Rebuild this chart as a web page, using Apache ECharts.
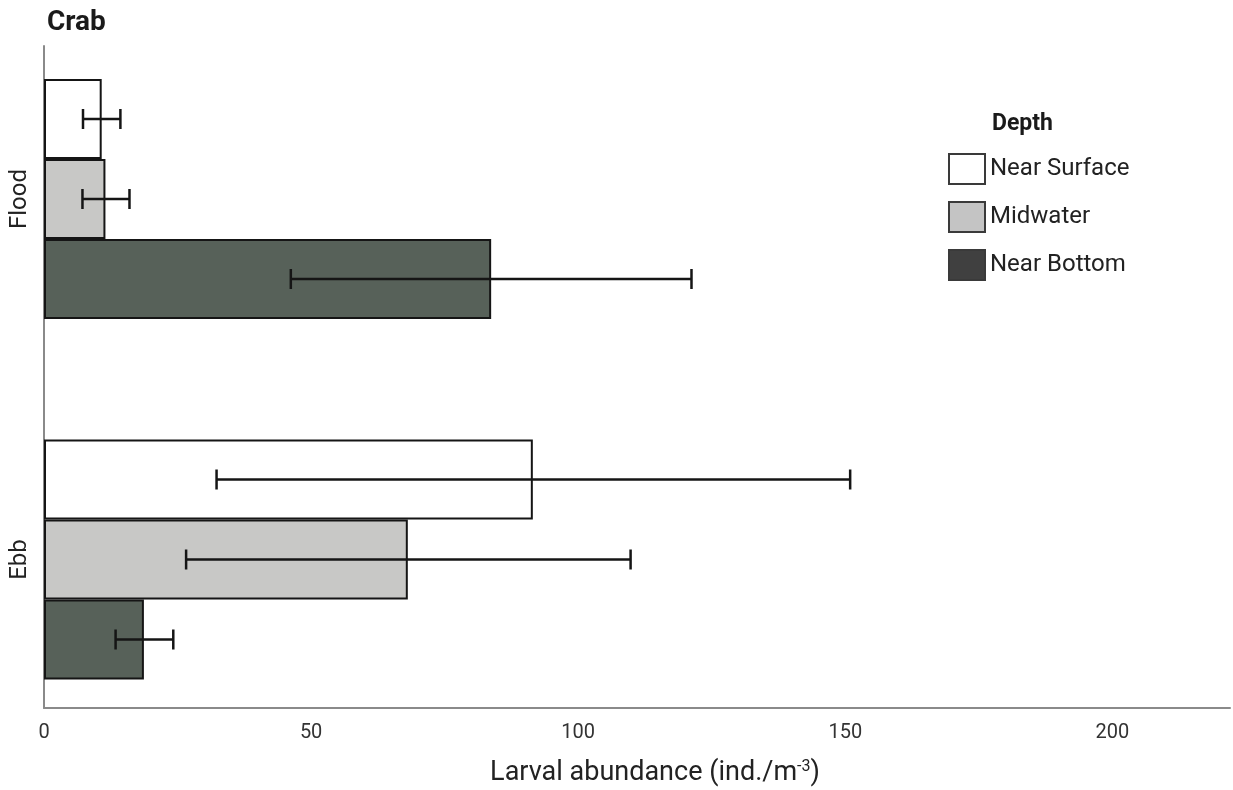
<!DOCTYPE html>
<html>
<head>
<meta charset="utf-8">
<script src="https://cdn.jsdelivr.net/npm/echarts@6/dist/echarts.min.js"></script>
<style>
html,body{margin:0;padding:0;background:#fff;}
#chart{width:1233px;height:790px;}
</style>
</head>
<body>
<div id="chart"></div>
<script>
// ---- data ----
const categories = ['Flood', 'Ebb'];
const seriesNames = ['Near Surface', 'Midwater', 'Near Bottom'];
const nearSurface = [10.8, 91.5];
const midwater = [11.5, 68.1];
const nearBottom = [83.7, 18.7];
// error bar limits [low, high] per category
const nearSurfaceErr = [[7.3, 14.3], [32.3, 150.9]];
const midwaterErr = [[7.2, 16.0], [26.6, 109.8]];
const nearBottomErr = [[46.2, 121.2], [13.4, 24.2]];
const xTicks = [0, 50, 100, 150, 200];

// ---- styles ----
const FONT = 'Roboto';
const BAR_W = 80;
const barColors = ['#ffffff', '#c8c8c6', '#576159'];
const legendColors = ['#ffffff', '#c4c4c4', '#404040'];
const values = [nearSurface, midwater, nearBottom];
const errs = [nearSurfaceErr, midwaterErr, nearBottomErr];

const X_MAX = 222;

const barSeries = seriesNames.map((name, i) => ({
  name: name,
  type: 'bar',
  xAxisIndex: 0,
  yAxisIndex: 0,
  barWidth: BAR_W,
  barGap: '0%',
  data: values[i],
  itemStyle: { color: barColors[i], borderColor: '#151515', borderWidth: 2 },
  emphasis: { disabled: true },
  z: 2
}));

const errSeries = seriesNames.map((name, i) => ({
  name: name + ' err',
  type: 'custom',
  xAxisIndex: 0,
  yAxisIndex: 0,
  encode: { x: [1, 2], y: 0 },
  data: errs[i].map((e, c) => [c, e[0], e[1]]),
  z: 5,
  silent: true,
  renderItem: function (params, api) {
    const c = api.value(0);
    const p1 = api.coord([api.value(1), c]);
    const p2 = api.coord([api.value(2), c]);
    const offset = (i - 1) * BAR_W;
    const y = p1[1] + offset;
    const cap = 10;
    const st = { stroke: '#151515', lineWidth: 2.5 };
    return {
      type: 'group',
      children: [
        { type: 'line', shape: { x1: p1[0], y1: y, x2: p2[0], y2: y }, style: st },
        { type: 'line', shape: { x1: p1[0], y1: y - cap, x2: p1[0], y2: y + cap }, style: st },
        { type: 'line', shape: { x1: p2[0], y1: y - cap, x2: p2[0], y2: y + cap }, style: st }
      ]
    };
  }
}));

const option = {
  animation: false,
  backgroundColor: '#ffffff',
  title: [
    { text: 'Crab', left: 42, top: 4, textStyle: { fontFamily: FONT, fontSize: 28, fontWeight: 'bold', color: '#1a1a1a' } },
    { text: 'Depth', left: 987, top: 108, textStyle: { fontFamily: FONT, fontSize: 23, fontWeight: 'bold', color: '#1a1a1a' } }
  ],
  legend: {
    orient: 'vertical',
    left: 943,
    top: 148,
    itemWidth: 36,
    itemHeight: 30,
    itemGap: 16,
    icon: 'rect',
    textStyle: { fontFamily: FONT, fontSize: 24, color: '#222' },
    data: seriesNames.map((n, i) => ({
      name: n,
      itemStyle: { color: legendColors[i], borderColor: '#3a3a3a', borderWidth: 2 }
    })),
    selectedMode: false
  },
  grid: [
    { left: 44, right: 3, top: 18.75, bottom: 50.25, outerBoundsMode: 'none', containLabel: false },
    { left: 44, right: 3, top: 46, bottom: 82, outerBoundsMode: 'none', containLabel: false }
  ],
  xAxis: [
    { gridIndex: 0, type: 'value', min: 0, max: X_MAX, show: false, splitLine: { show: false } },
    {
      gridIndex: 1, type: 'value', min: xTicks[0], max: X_MAX, interval: 50,
      axisLine: { show: true, lineStyle: { color: '#8a8a8a', width: 2 } },
      axisTick: { show: false },
      splitLine: { show: false },
      axisLabel: {
        show: true, margin: 15, fontFamily: FONT, fontSize: 20, color: '#333',
        showMaxLabel: false,
        formatter: function (v) { return xTicks.indexOf(v) >= 0 ? String(v) : ''; }
      },
      name: 'Larval abundance (ind./m{sup|-3})',
      nameLocation: 'middle',
      nameGap: 51,
      nameTextStyle: {
        fontFamily: FONT, fontSize: 27, color: '#222',
        padding: [0, 0, 0, 36],
        rich: { sup: { fontFamily: FONT, fontSize: 16, color: '#222', verticalAlign: 'top', padding: [0, 0, 12, 0] } }
      }
    }
  ],
  yAxis: [
    {
      gridIndex: 0, type: 'category', inverse: true, data: categories,
      axisLine: { show: false }, axisTick: { show: false }, splitLine: { show: false },
      axisLabel: { rotate: 90, margin: 12, fontFamily: FONT, fontSize: 24, color: '#222' }
    },
    {
      gridIndex: 1, type: 'value', min: 0, max: 1,
      axisLine: { show: true, lineStyle: { color: '#8a8a8a', width: 2 } },
      axisTick: { show: false }, axisLabel: { show: false }, splitLine: { show: false }
    }
  ],
  series: barSeries.concat(errSeries)
};

const chart = echarts.init(document.getElementById('chart'), null, { renderer: 'canvas' });
chart.setOption(option);
</script>
</body>
</html>
